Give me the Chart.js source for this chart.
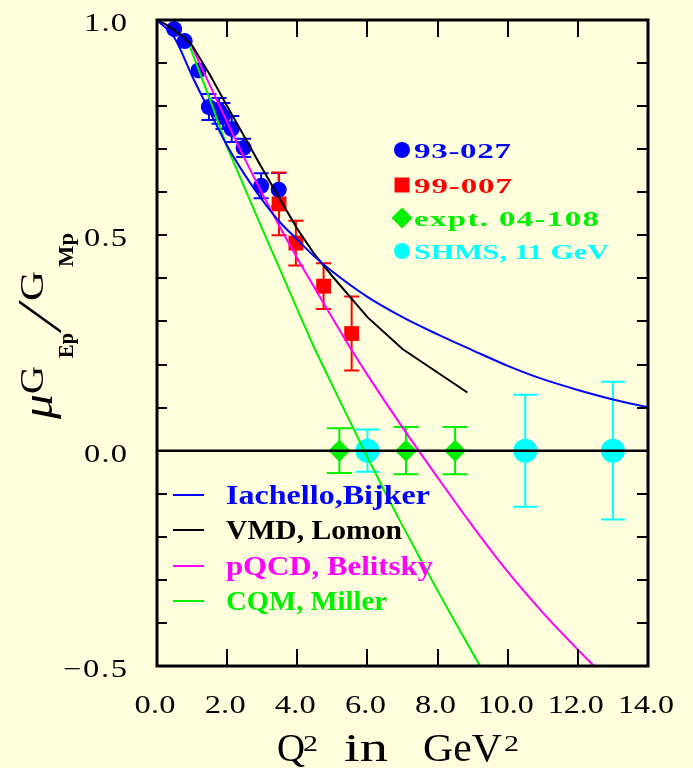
<!DOCTYPE html>
<html>
<head>
<meta charset="utf-8">
<script src="https://cdn.jsdelivr.net/npm/chart.js@4.4.1/dist/chart.umd.min.js"></script>
<style>
  html, body { margin: 0; padding: 0; background: #FFFFDE; }
  canvas { display: block; }
</style>
</head>
<body>
<canvas id="c" width="693" height="768" style="width:693px;height:768px"></canvas>
<script>
// ---- Measured ratios mu*GEp/GMp versus Q^2 (GeV^2) ----
const q2_93027 = [0.49, 0.79, 1.18, 1.48, 1.77, 1.88, 2.13, 2.47, 2.97, 3.47];
const r_93027  = [0.979, 0.951, 0.883, 0.798, 0.789, 0.777, 0.747, 0.703, 0.615, 0.606];
const e_93027  = [0.008, 0.010, 0.012, 0.030, 0.030, 0.030, 0.030, 0.021, 0.029, 0.039];

const q2_99007 = [3.48, 3.96, 4.75, 5.55];
const r_99007  = [0.573, 0.482, 0.382, 0.272];
const e_99007  = [0.073, 0.052, 0.053, 0.086];

// projected points (plotted at zero with expected errors)
const q2_04108 = [5.2, 7.1, 8.5];
const r_04108  = [0.0, 0.0, 0.0];
const e_04108  = [0.052, 0.055, 0.055];

const q2_shms = [6.0, 10.5, 13.0];
const r_shms  = [0.0, 0.0, 0.0];
const e_shms  = [0.049, 0.13, 0.16];

// ---- Model curves ----
const q2_iachello = [0, 0.5, 1.0, 1.5, 2.0, 2.5, 3.0, 3.5, 4.0, 4.5, 5.0, 6.0, 7.0, 8.0, 9.0, 10.0, 11.0, 12.0, 13.0, 14.0];
const r_iachello  = [1.0, 0.958, 0.870, 0.788, 0.708, 0.641, 0.582, 0.531, 0.490, 0.450, 0.416, 0.357, 0.310, 0.270, 0.233, 0.197, 0.166, 0.141, 0.119, 0.101];

const q2_vmd = [0, 0.25, 0.5, 0.75, 1.0, 1.5, 2.0, 2.5, 3.0, 3.5, 4.0, 4.5, 5.0, 6.0, 7.0, 8.85];
const r_vmd  = [1.0, 0.99, 0.976, 0.961, 0.941, 0.874, 0.80, 0.728, 0.655, 0.585, 0.515, 0.455, 0.405, 0.31, 0.236, 0.135];

const q2_pqcd = [1.0, 1.5, 2.0, 2.5, 3.0, 3.5, 4.0, 4.5, 5.0, 5.5, 6.0, 7.0, 8.0, 9.0, 10.0, 11.0, 12.0, 12.46];
const r_pqcd  = [0.937, 0.85, 0.763, 0.678, 0.597, 0.52, 0.447, 0.377, 0.308, 0.240, 0.176, 0.054, -0.062, -0.175, -0.281, -0.376, -0.462, -0.5];

const q2_cqm = [0.94, 1.5, 2.0, 2.5, 3.0, 3.5, 4.0, 4.5, 5.0, 5.5, 6.0, 6.5, 7.0, 7.5, 8.0, 8.5, 9.0, 9.3];
const r_cqm  = [0.937, 0.818, 0.705, 0.61, 0.515, 0.422, 0.328, 0.236, 0.152, 0.068, -0.015, -0.096, -0.174, -0.25, -0.325, -0.398, -0.47, -0.513];

// ---- Axis ticks and labels ----
const xTickValues = [0, 2, 4, 6, 8, 10, 12, 14];
const xTickLabels = ['0.0', '2.0', '4.0', '6.0', '8.0', '10.0', '12.0', '14.0'];
const yTickValues = [1.0, 0.5, 0.0, -0.5];
const yTickLabels = ['1.0', '0.5', '0.0', '\u22120.5'];
const yMinorStep = 0.1;

// ---- Legend texts ----
const expLabels   = ['93-027', '99-007', 'expt. 04-108', 'SHMS, 11 GeV'];
const modelLabels = ['Iachello,Bijker', 'VMD, Lomon', 'pQCD, Belitsky', 'CQM, Miller'];

const BLUE = '#0000FF', RED = '#FF0000', GREEN = '#00F000', CYAN = '#00FFFF', MAGENTA = '#FF00FF', BLACK = '#000000';
const BG = '#FFFFDE';
const SERIF = '"Liberation Serif", "Times New Roman", serif';

const pts = (xs, ys) => xs.map((x, i) => ({ x: x, y: ys[i] }));

function curve(xs, ys, color, extra) {
  return Object.assign({
    data: pts(xs, ys), showLine: true, borderColor: color, borderWidth: 2,
    pointRadius: 0, fill: false, tension: 0
  }, extra || {});
}
function marks(xs, ys, color, style, radius) {
  return {
    data: pts(xs, ys), showLine: false, pointStyle: style, pointRadius: radius,
    backgroundColor: color, borderColor: color, borderWidth: 0
  };
}

const errorSets = [
  { xs: q2_93027, ys: r_93027, es: e_93027, color: BLUE, cap: 7.5, r: 8 },
  { xs: q2_99007, ys: r_99007, es: e_99007, color: RED, cap: 7.5, r: 7.5 },
  { xs: q2_04108, ys: r_04108, es: e_04108, color: GREEN, cap: 12.5, r: 11 },
  { xs: q2_shms, ys: r_shms, es: e_shms, color: CYAN, cap: 12, r: 12 }
];

// draw a left-aligned string spanning a given width: stretch up to maxScale,
// then open up the letter spacing for the rest
function fitText(ctx, str, x, y, w, maxScale) {
  const lim = maxScale || 1.3;
  const m = ctx.measureText(str).width;
  let s = w / m, gap = 0;
  if (s > lim) {
    s = lim;
    gap = (w - m * s) / Math.max(1, str.length - 1);
  }
  ctx.save();
  ctx.textAlign = 'left';
  ctx.translate(x, y);
  ctx.scale(s, 1);
  if (gap === 0) {
    ctx.fillText(str, 0, 0);
  } else {
    let cx = 0;
    for (const ch of str) {
      ctx.fillText(ch, cx, 0);
      cx += ctx.measureText(ch).width + gap / s;
    }
  }
  ctx.restore();
}

function drawMarker(ctx, style, x, y, r, color) {
  ctx.save();
  ctx.fillStyle = color;
  ctx.beginPath();
  if (style === 'circle') {
    ctx.arc(x, y, r, 0, Math.PI * 2);
  } else if (style === 'rect') {
    ctx.rect(x - r, y - r, 2 * r, 2 * r);
  } else {
    ctx.moveTo(x - r, y); ctx.lineTo(x, y - r); ctx.lineTo(x + r, y); ctx.lineTo(x, y + r); ctx.closePath();
  }
  ctx.fill();
  ctx.restore();
}

const decorPlugin = {
  id: 'decor',
  beforeDraw(chart) {
    const ctx = chart.ctx;
    ctx.save();
    ctx.fillStyle = BG;
    ctx.fillRect(0, 0, chart.width, chart.height);
    ctx.restore();
  },
  beforeDatasetsDraw(chart) {
    const ctx = chart.ctx, xs = chart.scales.x, ys = chart.scales.y, a = chart.chartArea;
    ctx.save();
    ctx.beginPath(); ctx.rect(a.left, a.top, a.right - a.left, a.bottom - a.top); ctx.clip();
    ctx.lineWidth = 2;
    errorSets.forEach(s => {
      ctx.strokeStyle = s.color;
      s.xs.forEach((q, i) => {
        const px = xs.getPixelForValue(q);
        const y1 = ys.getPixelForValue(s.ys[i] + s.es[i]);
        const y2 = ys.getPixelForValue(s.ys[i] - s.es[i]);
        if ((y2 - y1) / 2 < s.r) return; // bar hidden under the marker
        ctx.beginPath();
        ctx.moveTo(px, y1); ctx.lineTo(px, y2);
        ctx.moveTo(px - s.cap, y1); ctx.lineTo(px + s.cap, y1);
        ctx.moveTo(px - s.cap, y2); ctx.lineTo(px + s.cap, y2);
        ctx.stroke();
      });
    });
    ctx.restore();
  },
  afterDatasetsDraw(chart) {
    const ctx = chart.ctx, xs = chart.scales.x, ys = chart.scales.y, a = chart.chartArea;
    ctx.save();
    ctx.textBaseline = 'alphabetic';
    ctx.textAlign = 'left';

    // zero line
    ctx.strokeStyle = BLACK; ctx.lineWidth = 2.5;
    ctx.beginPath();
    ctx.moveTo(xs.getPixelForValue(0), ys.getPixelForValue(0));
    ctx.lineTo(xs.getPixelForValue(14), ys.getPixelForValue(0));
    ctx.stroke();

    // ticks pointing into the plot
    ctx.lineWidth = 2;
    ctx.beginPath();
    for (let v = ys.min; v <= ys.max + 1e-9; v += yMinorStep) {
      const py = Math.round(ys.getPixelForValue(v));
      ctx.moveTo(a.left, py); ctx.lineTo(a.left + 10, py);
      ctx.moveTo(a.right, py); ctx.lineTo(a.right - 11, py);
    }
    xTickValues.forEach(v => {
      const px = Math.round(xs.getPixelForValue(v));
      ctx.moveTo(px, a.top); ctx.lineTo(px, a.top + 17);
      ctx.moveTo(px, a.bottom); ctx.lineTo(px, a.bottom - 17);
    });
    ctx.stroke();

    // frame
    ctx.lineWidth = 3;
    ctx.strokeRect(a.left, a.top, a.right - a.left, a.bottom - a.top);

    // tick labels
    ctx.fillStyle = BLACK;
    ctx.font = '25px ' + SERIF;
    xTickValues.forEach((v, i) => {
      const w = xTickLabels[i].length > 3 ? 56 : 41;
      fitText(ctx, xTickLabels[i], xs.getPixelForValue(v) - 2 - w / 2, 713, w);
    });
    yTickValues.forEach((v, i) => {
      const w = yTickLabels[i].length > 3 ? 64 : 43;
      fitText(ctx, yTickLabels[i], 127 - w, ys.getPixelForValue(v) + 11, w);
    });

    // x axis title: Q^2 in GeV^2
    ctx.font = '41px ' + SERIF;
    fitText(ctx, 'Q', 277, 761, 28);
    fitText(ctx, 'in', 344, 761, 44, 1.7);
    fitText(ctx, 'GeV', 423, 761, 79);
    ctx.font = '23px ' + SERIF;
    fitText(ctx, '2', 303, 751, 15);
    fitText(ctx, '2', 504, 751, 16);

    // y axis title: mu G_Ep / G_Mp, read bottom to top
    ctx.save();
    ctx.rotate(-Math.PI / 2);
    // rotated frame: (rx, ry) lands on screen at (ry, -rx)
    ctx.font = 'italic 44px ' + SERIF;
    fitText(ctx, '\u03BC', -419, 52, 25);
    ctx.font = '34px ' + SERIF;
    fitText(ctx, 'G', -394, 43, 28);
    fitText(ctx, 'G', -301, 43, 30);
    ctx.font = 'bold 22px ' + SERIF;
    fitText(ctx, 'Ep', -358, 73, 25);
    fitText(ctx, 'Mp', -267, 73, 34);
    // long thin fraction slash between the two form factors
    ctx.font = '64px ' + SERIF;
    ctx.fillText('\u2044', -322, 61);
    ctx.restore();

    // experiment legend (upper right)
    const expColors = [BLUE, RED, GREEN, CYAN];
    const expStyles = ['circle', 'rect', 'diamond', 'circle'];
    const expSizes = [8, 7.5, 10.5, 8];
    const expY = [150, 185, 218, 251];
    const expW = [97, 98, 185, 195];
    ctx.font = 'bold 22px ' + SERIF;
    expLabels.forEach((t, i) => {
      drawMarker(ctx, expStyles[i], 402, expY[i], expSizes[i], expColors[i]);
      ctx.fillStyle = expColors[i];
      fitText(ctx, t, 414, expY[i] + 8, expW[i], 1.5);
    });

    // model legend (lower left)
    const modColors = [BLUE, BLACK, MAGENTA, GREEN];
    const modY = [495, 530, 566, 601];
    const modW = [204, 176, 207, 161];
    ctx.font = 'bold 27px ' + SERIF;
    modelLabels.forEach((t, i) => {
      ctx.strokeStyle = modColors[i]; ctx.lineWidth = 2;
      ctx.beginPath(); ctx.moveTo(173, modY[i]); ctx.lineTo(204, modY[i]); ctx.stroke();
      ctx.fillStyle = modColors[i];
      fitText(ctx, t, 226, modY[i] + 9, modW[i]);
    });
    ctx.restore();
  }
};

new Chart(document.getElementById('c').getContext('2d'), {
  type: 'scatter',
  data: {
    datasets: [
      curve(q2_iachello, r_iachello, BLUE, { cubicInterpolationMode: 'monotone' }),
      curve(q2_vmd, r_vmd, BLACK),
      curve(q2_pqcd, r_pqcd, MAGENTA, { cubicInterpolationMode: 'monotone' }),
      curve(q2_cqm, r_cqm, GREEN),
      marks(q2_93027, r_93027, BLUE, 'circle', 8),
      marks(q2_99007, r_99007, RED, 'rect', 10.5),
      marks(q2_04108, r_04108, GREEN, 'rectRot', 11),
      marks(q2_shms, r_shms, CYAN, 'circle', 12)
    ]
  },
  options: {
    responsive: false,
    animation: false,
    events: [],
    layout: { padding: { left: 157, right: 45, top: 20, bottom: 102 } },
    scales: {
      x: { type: 'linear', min: 0, max: 14, display: false },
      y: { type: 'linear', min: -0.5, max: 1.0, display: false }
    },
    plugins: { legend: { display: false }, tooltip: { enabled: false } }
  },
  plugins: [decorPlugin]
});
</script>
</body>
</html>
